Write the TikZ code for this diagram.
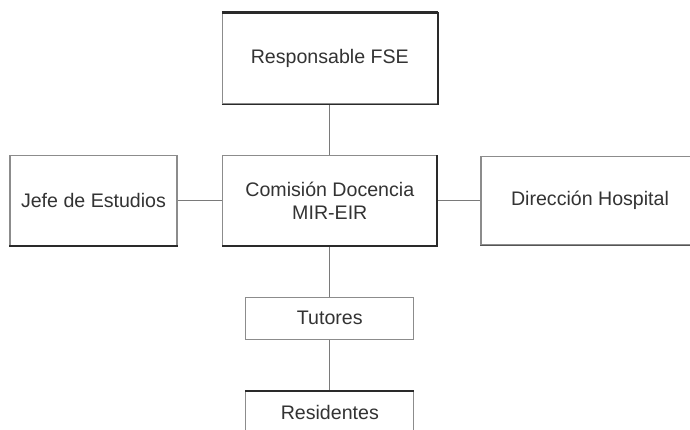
\documentclass[tikz,border=0pt]{standalone}
\usepackage{fontspec}
\setmainfont{Liberation Sans}
\definecolor{edgegray}{HTML}{8C8C8C}
\definecolor{edgedark}{HTML}{2A2A2A}
\definecolor{linkgray}{HTML}{7A7A7A}
\definecolor{txt}{HTML}{333333}
\begin{document}
\begin{tikzpicture}[x=1pt,y=-1pt,
  orgbox/.style={draw=edgegray, line width=1.1pt, fill=white, inner sep=0pt,
    align=center, text=txt, font=\fontsize{19.6}{23}\selectfont},
  darkedge/.style={draw=edgedark, line width=1.8pt},
  link/.style={draw=linkgray, line width=1.3pt}]
\useasboundingbox (0,0) rectangle (690,429);
\clip (0,0) rectangle (690,429);
\fill[white] (0,0) rectangle (690,429);
\node[orgbox, minimum width=215pt, minimum height=91pt] (resp) at (329.8,58.4) {Responsable FSE};
\node[orgbox, minimum width=214pt, minimum height=90pt] (com) at (329.8,200.6) {Comisión Docencia\\MIR-EIR};
\node[orgbox, minimum width=167pt, minimum height=90pt] (jefe) at (93.5,200.6) {Jefe de Estudios};
\node[orgbox, minimum width=218pt, minimum height=88.5pt] (dir) at (590,200.6) {Dirección Hospital};
\node[orgbox, minimum width=168pt, minimum height=42pt] (tut) at (329.8,318.3) {Tutores};
\node[orgbox, minimum width=168pt, minimum height=42pt] (res) at (329.8,412.7) {Residentes};
% links
\draw[link] (resp.south) -- (com.north);
\draw[link] (jefe.east) -- (com.west);
\draw[link] (com.east) -- (dir.west);
\draw[link] (com.south) -- (tut.north);
\draw[link] (tut.south) -- (res.north);
% darker edges
\draw[darkedge, line width=3pt] (resp.north west) -- (resp.north east);
\draw[darkedge] (resp.south west) -- (resp.south east) -- (resp.north east);
\draw[darkedge] (com.south west) -- (com.south east) -- (com.north east);
\draw[darkedge] (jefe.south west) -- (jefe.south east);
\draw[darkedge, draw=edgedark!80!white] (dir.south west) -- (dir.south east);
\draw[darkedge] (res.north west) -- (res.north east);
\end{tikzpicture}
\end{document}
